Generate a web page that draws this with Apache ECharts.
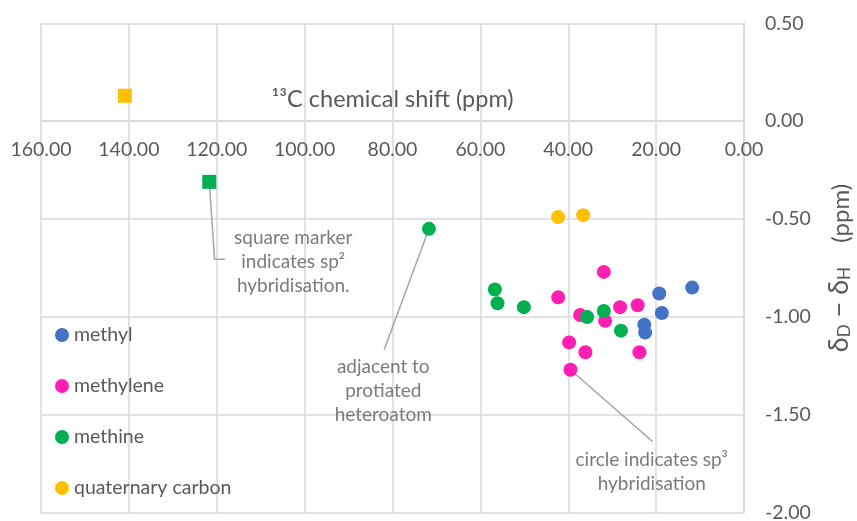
<!DOCTYPE html>
<html>
<head>
<meta charset="utf-8">
<script src="https://cdn.jsdelivr.net/npm/echarts@6/dist/echarts.min.js"></script>
<style>html,body{margin:0;padding:0;background:#fff;}#c{width:857px;height:521px;}</style>
</head>
<body>
<div id="c"></div>
<script>
// 13C shift (ppm), deltaD - deltaH (ppm)
var methyl = [[19.3,-0.88],[11.8,-0.85],[18.7,-0.98],[22.7,-1.04],[22.5,-1.08]];
var methylene = [[31.9,-0.77],[42.3,-0.90],[37.3,-0.99],[31.6,-1.02],[28.2,-0.95],[24.2,-0.94],[39.8,-1.13],[36.1,-1.18],[23.8,-1.18],[39.5,-1.27]];
var methine = [[71.7,-0.55],[56.7,-0.86],[56.1,-0.93],[50.1,-0.95],[35.7,-1.00],[31.9,-0.97],[28.0,-1.07]];
var methineSp2 = [[121.7,-0.31]];
var quaternary = [[42.3,-0.49],[36.6,-0.48]];
var quaternarySp2 = [[140.9,0.13]];
var seriesNames = ['methyl','methylene','methine','quaternary carbon'];
var colors = ['#4472C4','#FF1DB4','#00B050','#FFC000'];
var xTicks = [0,20,40,60,80,100,120,140,160];
var yTicks = [-2,-1.5,-1,-0.5,0,0.5];
// annotations: text anchor (data coords) and leader polylines (data coords)
var noteTexts = ['square marker\nindicates sp²\nhybridisation.','adjacent to\nprotiated\nheteroatom','circle indicates sp³\nhybridisation'];
var noteAnchors = [[102.6,-0.717],[82.1,-1.378],[21.0,-1.792]];
var noteLeaders = [
  [[121.7,-0.31],[120.5,-0.705],[118.1,-0.705]],
  [[71.7,-0.55],[81.9,-1.168]],
  [[39.5,-1.27],[20.8,-1.637]]
];

var FONT = 'Lato';
var grey = '#595959';
function pts(arr, sym){ return arr.map(function(p){ var o={value:p}; if(sym) o.symbol=sym; return o; }); }

var series = [
  {name:seriesNames[0], type:'scatter', data:pts(methyl)},
  {name:seriesNames[1], type:'scatter', data:pts(methylene)},
  {name:seriesNames[2], type:'scatter', data:pts(methine).concat(pts(methineSp2,'rect'))},
  {name:seriesNames[3], type:'scatter', data:pts(quaternary).concat(pts(quaternarySp2,'rect'))}
].map(function(s,i){
  s.symbol='circle'; s.symbolSize=14; s.itemStyle={color:colors[i], opacity:1}; s.z=3;
  s.emphasis={disabled:true}; return s;
});

series.push({
  type:'lines', coordinateSystem:'cartesian2d', polyline:true, silent:true, z:2,
  lineStyle:{color:'#a6a6a6', width:1.5, opacity:1},
  data:noteLeaders.map(function(c){return {coords:c};})
});
series.push({
  type:'scatter', silent:true, symbolSize:1, z:4,
  itemStyle:{color:'rgba(0,0,0,0)'},
  label:{show:true, position:'inside', formatter:function(p){return p.name;}, color:grey,
         fontFamily:FONT, fontSize:19, lineHeight:24, align:'center', verticalAlign:'middle'},
  data:noteAnchors.map(function(a,i){return {name:noteTexts[i], value:a};})
});

var chart = echarts.init(document.getElementById('c'), null, {renderer:'canvas'});
chart.setOption({
  animation:false,
  color:colors,
  grid:{left:41, right:113, top:23.3, bottom:8.3, containLabel:false, outerBoundsMode:'none'},
  legend:{
    data:seriesNames, orient:'vertical', left:50, top:320, itemWidth:14, itemHeight:14, itemGap:31,
    icon:'circle', selectedMode:false,
    textStyle:{color:grey, fontFamily:FONT, fontSize:19.5}
  },
  xAxis:{
    type:'value', min:xTicks[0], max:xTicks[xTicks.length-1], interval:20, inverse:true,
    position:'bottom', offset:0,
    name:'¹³C chemical shift (ppm)', nameLocation:'middle', nameGap:-34,
    nameTextStyle:{color:grey, fontFamily:FONT, fontSize:23.5},
    axisLine:{show:true, onZero:false, lineStyle:{color:'#d9d9d9', width:1.5}},
    axisTick:{show:false},
    axisLabel:{margin:19, color:grey, fontFamily:FONT, fontSize:19.5,
      formatter:function(v){return v.toFixed(2);}},
    splitLine:{show:true, lineStyle:{color:'#d9d9d9', width:1.5}}
  },
  yAxis:{
    type:'value', min:yTicks[0], max:yTicks[yTicks.length-1], interval:0.5, position:'right',
    name:'{d|δ}{s|D}{d| − δ}{s|H}{n|\u2002  (ppm)}', nameLocation:'middle', nameGap:80, nameRotate:90,
    nameTextStyle:{color:grey, fontFamily:FONT, fontSize:23,
      rich:{
        d:{fontSize:27, color:grey, fontFamily:FONT, verticalAlign:'bottom'},
        n:{fontSize:24, lineHeight:18, color:grey, fontFamily:FONT, verticalAlign:'bottom'},
        s:{fontSize:17, color:grey, fontFamily:FONT, verticalAlign:'bottom', padding:[12,0,0,0]}
      }},
    axisLine:{show:true, onZero:false, lineStyle:{color:'#d9d9d9', width:1.5}},
    axisTick:{show:false},
    axisLabel:{margin:21, color:grey, fontFamily:FONT, fontSize:19.5,
      formatter:function(v){return v.toFixed(2);}},
    splitLine:{show:true, lineStyle:{color:'#d9d9d9', width:1.5}}
  },
  series:series
});
// place the x axis on the y = 0 line (computed from the y scale)
var yZero = chart.convertToPixel({yAxisIndex:0}, 0);
var yBottom = chart.convertToPixel({yAxisIndex:0}, yTicks[0]);
chart.setOption({xAxis:{offset: -(yBottom - yZero)}});
</script>
</body>
</html>
